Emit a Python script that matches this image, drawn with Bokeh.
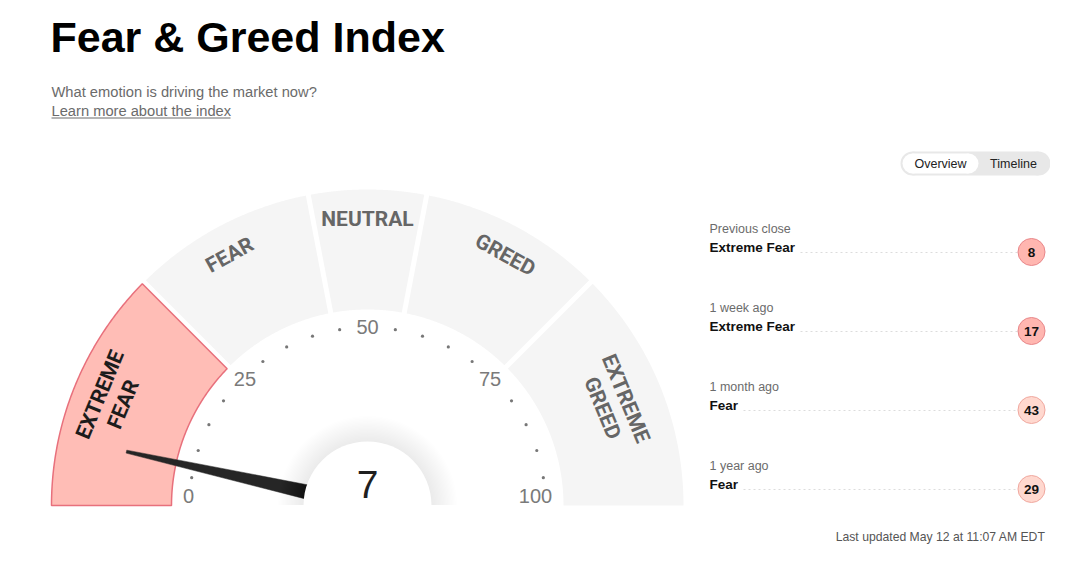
import numpy as np
from bokeh.plotting import figure
from bokeh.models import Range1d
from bokeh.core.properties import value
from bokeh.embed import file_html
from bokeh.resources import INLINE

# ---------------- data ----------------
index_value = 7
zone_names = ["EXTREME\nFEAR", "FEAR", "NEUTRAL", "GREED", "EXTREME\nGREED"]
zone_bounds = [0, 25, 44, 56, 75, 100]
tick_values = [0, 25, 50, 75, 100]
dot_values = [5, 10, 15, 20, 30, 35, 40, 45, 55, 60, 65, 70, 80, 85, 90, 95]

history_labels = ["Previous close", "1 week ago", "1 month ago", "1 year ago"]
history_ratings = ["Extreme Fear", "Extreme Fear", "Fear", "Fear"]
history_values = [8, 17, 43, 29]

title = "Fear & Greed Index"
subtitle = "What emotion is driving the market now?"
link_text = "Learn more about the index"
updated_text = "Last updated May 12 at 11:07 AM EDT"
toggle_labels = ["Overview", "Timeline"]

# ---------------- style ----------------
SANS = value("Liberation Sans")
COND = value("Roboto")
zone_fill = ["#ffbdb6", "#f5f5f5", "#f5f5f5", "#f5f5f5", "#f5f5f5"]
zone_line = ["#e8707c", None, None, None, None]
zone_text_color = ["#1c1c1c", "#666666", "#666666", "#666666", "#666666"]
zone_label_pos = [12.5, 34, 50, 66, 87.5]
zone_label_r = [277, 286, 287, 286, 267]
rating_fill = {"Extreme Fear": "#ffb6b0", "Fear": "#ffd8cf"}
rating_line = {"Extreme Fear": "#e8878a", "Fear": "#f0a89f"}
row_line_start = [800, 800, 743, 743]

W, H = 1050, 546


def Y(sy):
    return H - sy


p = figure(width=W, height=H, x_range=Range1d(0, W), y_range=Range1d(0, H),
           output_backend="svg", toolbar_location=None, min_border=0,
           x_axis_location=None, y_axis_location=None)
p.grid.visible = False
p.outline_line_color = None
p.background_fill_color = "white"
p.border_fill_color = "white"

# ---------------- header ----------------
p.text(x=[50], y=[Y(36)], text=[title], text_font=SANS, text_font_size="43px",
       text_font_style="bold", text_color="#000000", text_baseline="middle")
p.text(x=[51], y=[Y(91.5)], text=[subtitle], text_font=SANS, text_font_size="14.7px",
       text_color="#6b6b6b", text_baseline="middle")
p.text(x=[51], y=[Y(110.5)], text=[link_text], text_font=SANS, text_font_size="14.7px",
       text_color="#6b6b6b", text_baseline="middle")
p.segment(x0=[51], y0=[Y(117.5)], x1=[230], y1=[Y(117.5)], line_color="#6b6b6b", line_width=1)

# ---------------- gauge ----------------
cx, cy = 367, Y(505)
R_OUT, R_IN = 316, 196
GAP = 2.5


def ang(v):
    return np.pi * (1 - v / 100.0)


for i in range(len(zone_names)):
    v0, v1 = zone_bounds[i], zone_bounds[i + 1]
    t0, t1 = ang(v0), ang(v1)
    g0 = 0 if v0 == 0 else GAP
    g1 = 0 if v1 == 100 else GAP
    to0 = t0 - np.arcsin(g0 / R_OUT)
    to1 = t1 + np.arcsin(g1 / R_OUT)
    ti0 = t0 - np.arcsin(g0 / R_IN)
    ti1 = t1 + np.arcsin(g1 / R_IN)
    outer = np.linspace(to0, to1, 120)
    inner = np.linspace(ti1, ti0, 120)
    xs = np.concatenate([cx + R_OUT * np.cos(outer), cx + R_IN * np.cos(inner)])
    ys = np.concatenate([cy + R_OUT * np.sin(outer), cy + R_IN * np.sin(inner)])
    if zone_line[i]:
        p.patch(xs, ys, fill_color=zone_fill[i], line_color=zone_line[i], line_width=1.5)
    else:
        p.patch(xs, ys, fill_color=zone_fill[i], line_color=None)

# zone labels
for i, name in enumerate(zone_names):
    t = ang(zone_label_pos[i])
    r = zone_label_r[i]
    p.text(x=[cx + r * np.cos(t)], y=[cy + r * np.sin(t)], text=[name],
           angle=t - np.pi / 2, text_font=COND, text_font_size="21px",
           text_font_style="bold", text_color=zone_text_color[i],
           text_align="center", text_baseline="middle", text_line_height=1.05)

# dots
dv = np.array(dot_values, dtype=float)
p.scatter(x=cx + 178 * np.cos(ang(dv)), y=cy + 178 * np.sin(ang(dv)), size=3.2,
          marker="circle", fill_color="#777777", line_color=None)

# tick labels
tv = np.array(tick_values, dtype=float)
tx = cx + 179 * np.cos(ang(tv))
ty = cy + 179 * np.sin(ang(tv))
tick_dx = [0, 4, 0, -4, -11]
tick_dy = [10, 0, 0, 0, 10]
p.text(x=tx + np.array(tick_dx), y=ty + np.array(tick_dy), text=[str(v) for v in tick_values],
       text_font=SANS, text_font_size="20px", text_color="#7a7a7a",
       text_align="center", text_baseline="middle")

# needle
t = ang(index_value)
L = 247
R0 = 40
ux, uy = np.cos(t), np.sin(t)
nx, ny = -uy, ux
hw_base, hw_tip = 7.8, 1.5
bx, by = cx + ux * R0, cy + uy * R0
needle_x = [bx + nx * hw_base, cx + ux * L + nx * hw_tip, cx + ux * L - nx * hw_tip, bx - nx * hw_base]
needle_y = [by + ny * hw_base, cy + uy * L + ny * hw_tip, cy + uy * L - ny * hw_tip, by - ny * hw_base]
p.patch(needle_x, needle_y, fill_color="#262626", line_color="#262626", line_width=0.5)

# knob shadow + knob
for k in range(20):
    rr = 64 + 26 * (1 - k / 20.0)
    p.wedge(x=[cx], y=[cy], radius=rr, start_angle=0, end_angle=np.pi,
            fill_color="#000000", fill_alpha=0.0045, line_color=None)
p.wedge(x=[cx], y=[cy], radius=64, start_angle=0, end_angle=np.pi,
        fill_color="white", line_color=None)
p.text(x=[cx], y=[Y(484)], text=[str(index_value)], text_font=SANS, text_font_size="39px",
       text_color="#1f1f1f", text_align="center", text_baseline="middle")

# ---------------- toggle ----------------
p.rect(x=[975], y=[Y(163)], width=126, height=24, fill_color="#e8e8e8", line_color=None)
p.circle(x=[912, 1038], y=[Y(163)] * 2, radius=12, fill_color="#e8e8e8", line_color=None)
p.rect(x=[940], y=[Y(163)], width=56, height=20, fill_color="white", line_color=None)
p.circle(x=[912, 968], y=[Y(163)] * 2, radius=10, fill_color="white", line_color=None)
p.text(x=[940, 1013], y=[Y(163)] * 2, text=toggle_labels, text_font=SANS, text_font_size="12.5px",
       text_color="#222222", text_align="center", text_baseline="middle")

# ---------------- history ----------------
for k in range(len(history_labels)):
    off = 79 * k
    p.text(x=[709], y=[Y(228.5 + off)], text=[history_labels[k]], text_font=SANS,
           text_font_size="12.5px", text_color="#6b6b6b", text_baseline="middle")
    p.text(x=[709], y=[Y(246.5 + off)], text=[history_ratings[k]], text_font=SANS,
           text_font_size="13.5px", text_font_style="bold", text_color="#111111",
           text_baseline="middle")
    p.segment(x0=[row_line_start[k]], y0=[Y(252 + off)], x1=[1017], y1=[Y(252 + off)],
              line_color="#dcdcdc", line_width=1, line_dash="2 3")
    p.circle(x=[1031], y=[Y(251.5 + off)], radius=13.5,
             fill_color=rating_fill[history_ratings[k]],
             line_color=rating_line[history_ratings[k]], line_width=1)
    p.text(x=[1031], y=[Y(251.5 + off)], text=[str(history_values[k])], text_font=SANS,
           text_font_size="13.5px", text_font_style="bold", text_color="#111111",
           text_align="center", text_baseline="middle")

p.text(x=[1045], y=[Y(536)], text=[updated_text], text_font=SANS, text_font_size="12.2px",
       text_color="#555555", text_align="right", text_baseline="middle")

open("out.html", "w").write(file_html(p, INLINE))
